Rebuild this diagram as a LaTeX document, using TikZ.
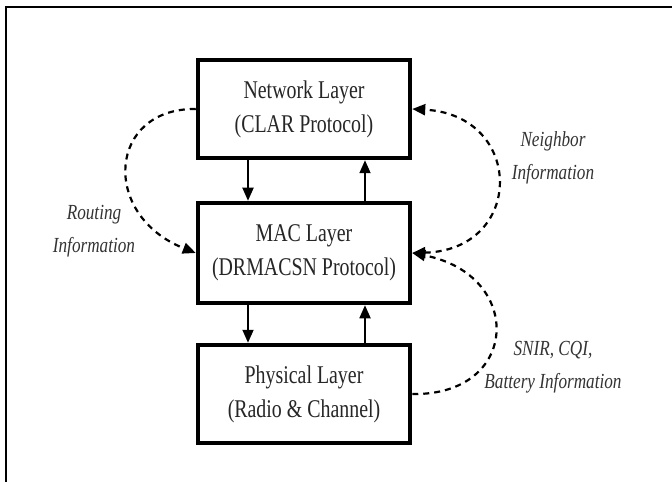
\documentclass[tikz,border=0pt]{standalone}
\usepackage{fontspec}
\setmainfont{Liberation Serif}
\newfontfamily\layerfont{Liberation Serif}[FakeStretch=0.78]
\newfontfamily\tagfont{Liberation Serif}[FakeStretch=0.8]
\usetikzlibrary{arrows.meta}
\begin{document}
\begin{tikzpicture}[x=1bp,y=-1bp,
  layer/.style={draw=black, line width=4.5bp, fill=white, minimum width=212bp,
    minimum height=98bp, inner sep=0pt, align=center, text=black!85,
    font=\layerfont\fontsize{25.5bp}{34bp}\selectfont},
  flow/.style={line width=1.8bp, -{Triangle[length=13bp,width=11bp]}},
  info/.style={line width=2.2bp, dash pattern=on 6bp off 5bp,
    -{Triangle[length=13bp,width=11bp]}},
  tag/.style={align=center, text=black!80,
    font=\tagfont\fontsize{21.5bp}{33bp}\selectfont\itshape}]
\useasboundingbox (0,0) rectangle (672,482);
% outer frame (top and left edges)
\draw[line width=2bp] (672,7) -- (6,7) -- (6,482);

% protocol layers
\node[layer] (net) at (304,109) {Network Layer\\(CLAR Protocol)};
\node[layer, minimum height=100bp] (mac) at (304,253) {MAC Layer\\(DRMACSN Protocol)};
\node[layer] (phy) at (304,394) {Physical Layer\\(Radio \& Channel)};

% data flow between adjacent layers
\draw[flow] ([xshift=-56bp]net.south) -- ([xshift=-56bp]mac.north);
\draw[flow] ([xshift=61bp]mac.north) -- ([xshift=61bp]net.south);
\draw[flow] ([xshift=-56bp]mac.south) -- ([xshift=-56bp]phy.north);
\draw[flow] ([xshift=61bp]phy.north) -- ([xshift=61bp]mac.south);

% cross-layer information
\draw[info] (net.west) .. controls (108,108) and (100,215) .. (mac.west);
\draw[info, {Triangle[length=13bp,width=11bp]}-{Triangle[length=13bp,width=11bp]}]
  (mac.east) .. controls (525,250) and (525,115) .. (net.east);
\draw[info] (phy.east) .. controls (520,396) and (525,275) .. (mac.east);

% labels
\node[tag] (routing) at (94,231) {Routing\\Information};
\node[tag] (neighbor) at (553,158) {Neighbor\\Information};
\node[tag] (snir) at (553,367) {SNIR, CQI,\\Battery Information};
\end{tikzpicture}
\end{document}
